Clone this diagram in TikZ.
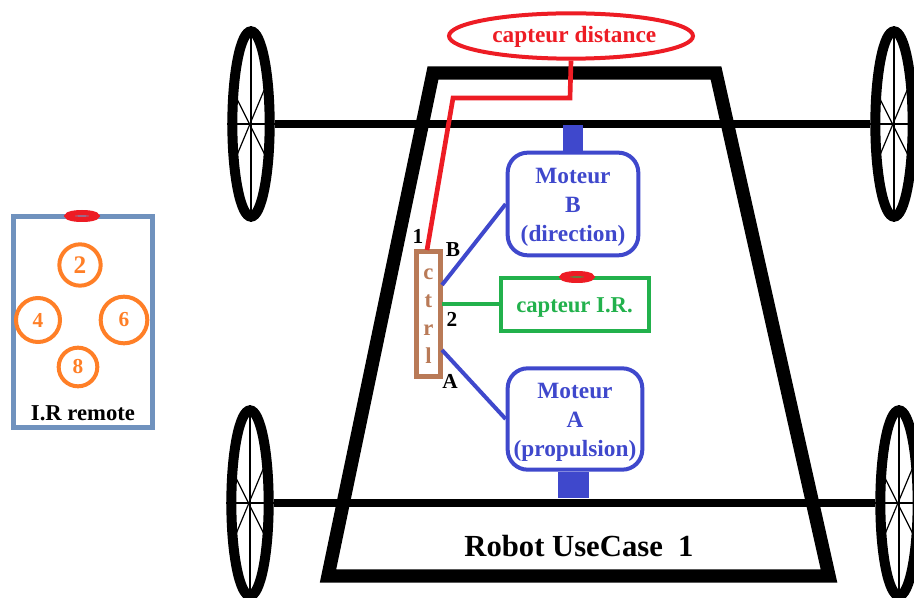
\documentclass[tikz,border=0pt]{standalone}
\usepackage{fontspec}
\setmainfont{Liberation Serif}
\usetikzlibrary{shapes.geometric,calc}

\definecolor{redsensor}{HTML}{ED1C24}
\definecolor{bluemotor}{HTML}{3F48CC}
\definecolor{greenir}{HTML}{22B14C}
\definecolor{brownctrl}{HTML}{B97A57}
\definecolor{orangekey}{HTML}{FF7F27}
\definecolor{blueremote}{HTML}{7092BE}

\tikzset{
  wheel/.style={draw=black, ellipse, line width=7.5pt, inner sep=0pt, minimum width=28pt, minimum height=139pt},
  spoke/.style={black, line width=0.9pt},
  axle/.style={black, line width=6.5pt},
  motor/.style={draw=bluemotor, text=bluemotor, rounded corners=15pt, line width=3pt, align=center, font=\bfseries\fontsize{17.5}{21.5}\selectfont, minimum width=98pt},
  bluewire/.style={bluemotor, line width=3pt},
  redeye/.style={draw=redsensor, ellipse, line width=4pt, inner sep=0pt, minimum width=22pt, minimum height=5pt},
  key/.style={draw=orangekey, text=orangekey, circle, line width=3pt, inner sep=0pt, font=\bfseries\fontsize{16}{16}\selectfont},
  pin/.style={text=black, inner sep=0pt, font=\bfseries\fontsize{16}{16}\selectfont}
}

\begin{document}
\begin{tikzpicture}[x=0.75pt, y=-0.75pt]
  \useasboundingbox (0,0) rectangle (914,598);

  % wheels and axles
  \foreach \name/\cx/\cy in {wtl/251/124, wtr/894/124, wbl/250/503, wbr/899/503} {
    \node[wheel] (\name) at (\cx,\cy) {};
    \draw[spoke] (\name.north) -- (\name.south);
    \draw[spoke] (\name.west) -- (\name.east);
    \draw[spoke] (\cx-14,\cy-25) -- (\cx+14,\cy+31);
    \draw[spoke] (\cx+14,\cy-36) -- (\cx-14,\cy+31);
  }
  \draw[axle] (wtl.east) -- (wtr.west);
  \draw[axle] (wbl.east) -- (wbr.west);

  % chassis
  \coordinate (cha) at (433,73);
  \coordinate (chb) at (716,73);
  \coordinate (chc) at (829,576);
  \coordinate (chd) at (328,576);
  \draw[black, line width=10pt, line join=miter] (cha) -- (chb) -- (chc) -- (chd) -- cycle;
  \node[text=black, font=\bfseries\fontsize{23}{23}\selectfont] (title) at (579,546) {Robot UseCase\ \ 1};

  % motors
  \node[motor, minimum height=77pt] (motB) at (573,204) {\rule{0pt}{16.5pt}Moteur\\B\\(direction)};
  \node[motor, minimum height=76pt, minimum width=101pt] (motA) at (575,419) {\rule{0pt}{16.5pt}Moteur\\A\\(propulsion)};
  \fill[bluemotor] (563,125) rectangle (583,152);
  \fill[bluemotor] (558,472) rectangle (589,498);

  % IR sensor
  \node[draw=greenir, text=greenir, line width=3pt, minimum width=111pt, minimum height=40pt, inner sep=0pt, font=\bfseries\fontsize{17}{17}\selectfont] (capIR) at (574.5,304.5) {\rule{0pt}{16pt}capteur I.R.};
  \node[redeye, fill=greenir] (eyeIR) at (577,277) {};

  % controller
  \node[draw=brownctrl, text=brownctrl, line width=3.5pt, minimum width=18pt, minimum height=94pt, inner sep=0pt, align=center, font=\bfseries\fontsize{17}{21}\selectfont] (ctrl) at (428.5,314) {\rule{0pt}{11pt}c\\t\\r\\l};
  \coordinate (ctrlB) at (442,285);
  \coordinate (ctrlA) at (442,350);
  \coordinate (ctrlIR) at (442,304.5);
  \coordinate (ctrlD) at (427,250);
  \draw[bluewire] (ctrlB) -- (motB.west);
  \draw[bluewire] (ctrlA) -- (motA.west);
  \draw[greenir, line width=3pt] (ctrlIR) -- (capIR.west);
  \node[pin] (pinone) at (418,236) {1};
  \node[pin] (pinB) at (453,250) {B};
  \node[pin] (pintwo) at (452,319) {2};
  \node[pin] (pinA) at (450,381) {A};

  % distance sensor
  \node[draw=redsensor, text=redsensor, ellipse, line width=3pt, minimum width=183pt, minimum height=34pt, inner sep=0pt, font=\bfseries\fontsize{17.5}{17.5}\selectfont] (capD) at (571,36) {\hspace{5pt}\rule{0pt}{14pt}capteur distance};
  \draw[redsensor, line width=3.5pt] (capD.south) -- (570,98) -- (453,98) -- (ctrlD);

  % remote
  \node[draw=blueremote, line width=3.5pt, minimum width=104pt, minimum height=158pt, inner sep=0pt] (remote) at (83,322) {};
  \node[redeye, fill=blueremote] (eyeR) at (82,216) {};
  \node[key, minimum size=31pt, font=\bfseries\fontsize{19}{19}\selectfont] (keytwo) at (80,265) {2};
  \node[key, minimum size=33pt] (keyfour) at (38,320) {4};
  \node[key, minimum size=35pt] (keysix) at (124,320) {6};
  \node[key, minimum size=29pt] (keyeight) at (78,367) {8};
  \node[text=black, font=\bfseries\fontsize{17}{17}\selectfont] (remlabel) at (83,413) {I.R remote};
\end{tikzpicture}
\end{document}
